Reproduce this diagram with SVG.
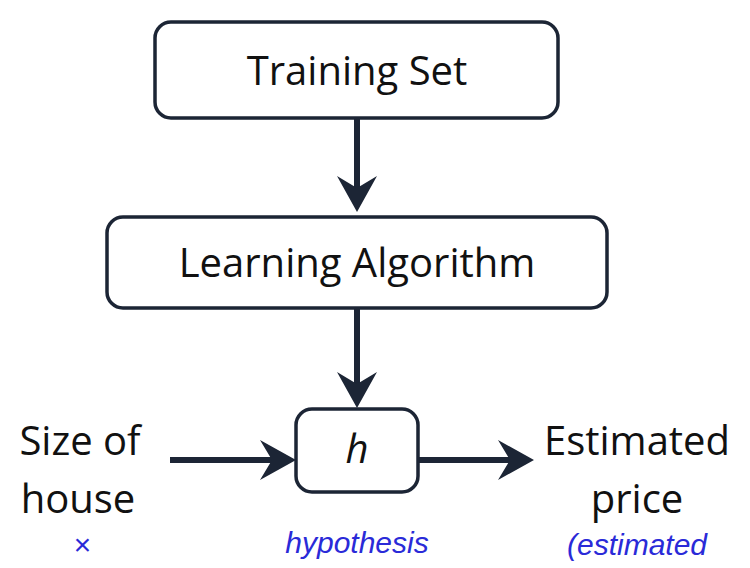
<svg xmlns="http://www.w3.org/2000/svg" width="750" height="568" viewBox="0 0 750 568">
<style>
.box{fill:#fff;stroke:#1c2535;stroke-width:3.5}
.t{font-family:"Open Sans","Liberation Sans",sans-serif;font-size:40px;fill:#111;text-anchor:middle}
.hw{font-family:"Liberation Sans",sans-serif;font-size:30px;fill:#2a2ad8;font-style:italic;text-anchor:middle}
.c{stroke:#1c2535;stroke-width:6;fill:none}
</style>
<defs>
<marker id="ah" markerWidth="10" markerHeight="10" refX="5" refY="5" orient="auto" markerUnits="userSpaceOnUse" viewBox="0 0 10 10">
<path d="M0,0 L10,5 L0,10 L3,5 Z" fill="#1c2535"/>
</marker>
</defs>
<rect width="750" height="568" fill="#fff"/>
<g id="connectors">
<path class="c" d="M357,118 L357,190"/>
<path d="M337,176 L357,212 L377,176 L357,188 Z" fill="#1c2535"/>
<path class="c" d="M357,308 L357,386"/>
<path d="M337,372 L357,408 L377,372 L357,384 Z" fill="#1c2535"/>
<path class="c" d="M170,460 L274,460"/>
<path d="M260,440 L296,460 L260,480 L272,460 Z" fill="#1c2535"/>
<path class="c" d="M418,460 L512,460"/>
<path d="M498,440 L534,460 L498,480 L510,460 Z" fill="#1c2535"/>
</g>
<g id="training"><rect class="box" x="155" y="22" width="403" height="96" rx="16"/><text class="t" x="357" y="85">Training Set</text></g>
<g id="learning"><rect class="box" x="107" y="217" width="500" height="91" rx="16"/><text class="t" x="357" y="277">Learning Algorithm</text></g>
<g id="h"><rect class="box" x="296" y="409" width="122" height="83" rx="16"/><text class="t" x="357" y="463" font-style="italic" font-size="36">h</text></g>
<g id="size"><text class="t" x="80" y="455">Size of</text><text class="t" x="78" y="513">house</text></g>
<g id="price"><text class="t" x="637" y="455">Estimated</text><text class="t" x="637" y="513">price</text></g>
<g id="notes">
<text class="hw" x="82" y="555">×</text>
<text class="hw" x="357" y="553">hypothesis</text>
<text class="hw" x="637" y="555">(estimated</text>
</g>
</svg>
